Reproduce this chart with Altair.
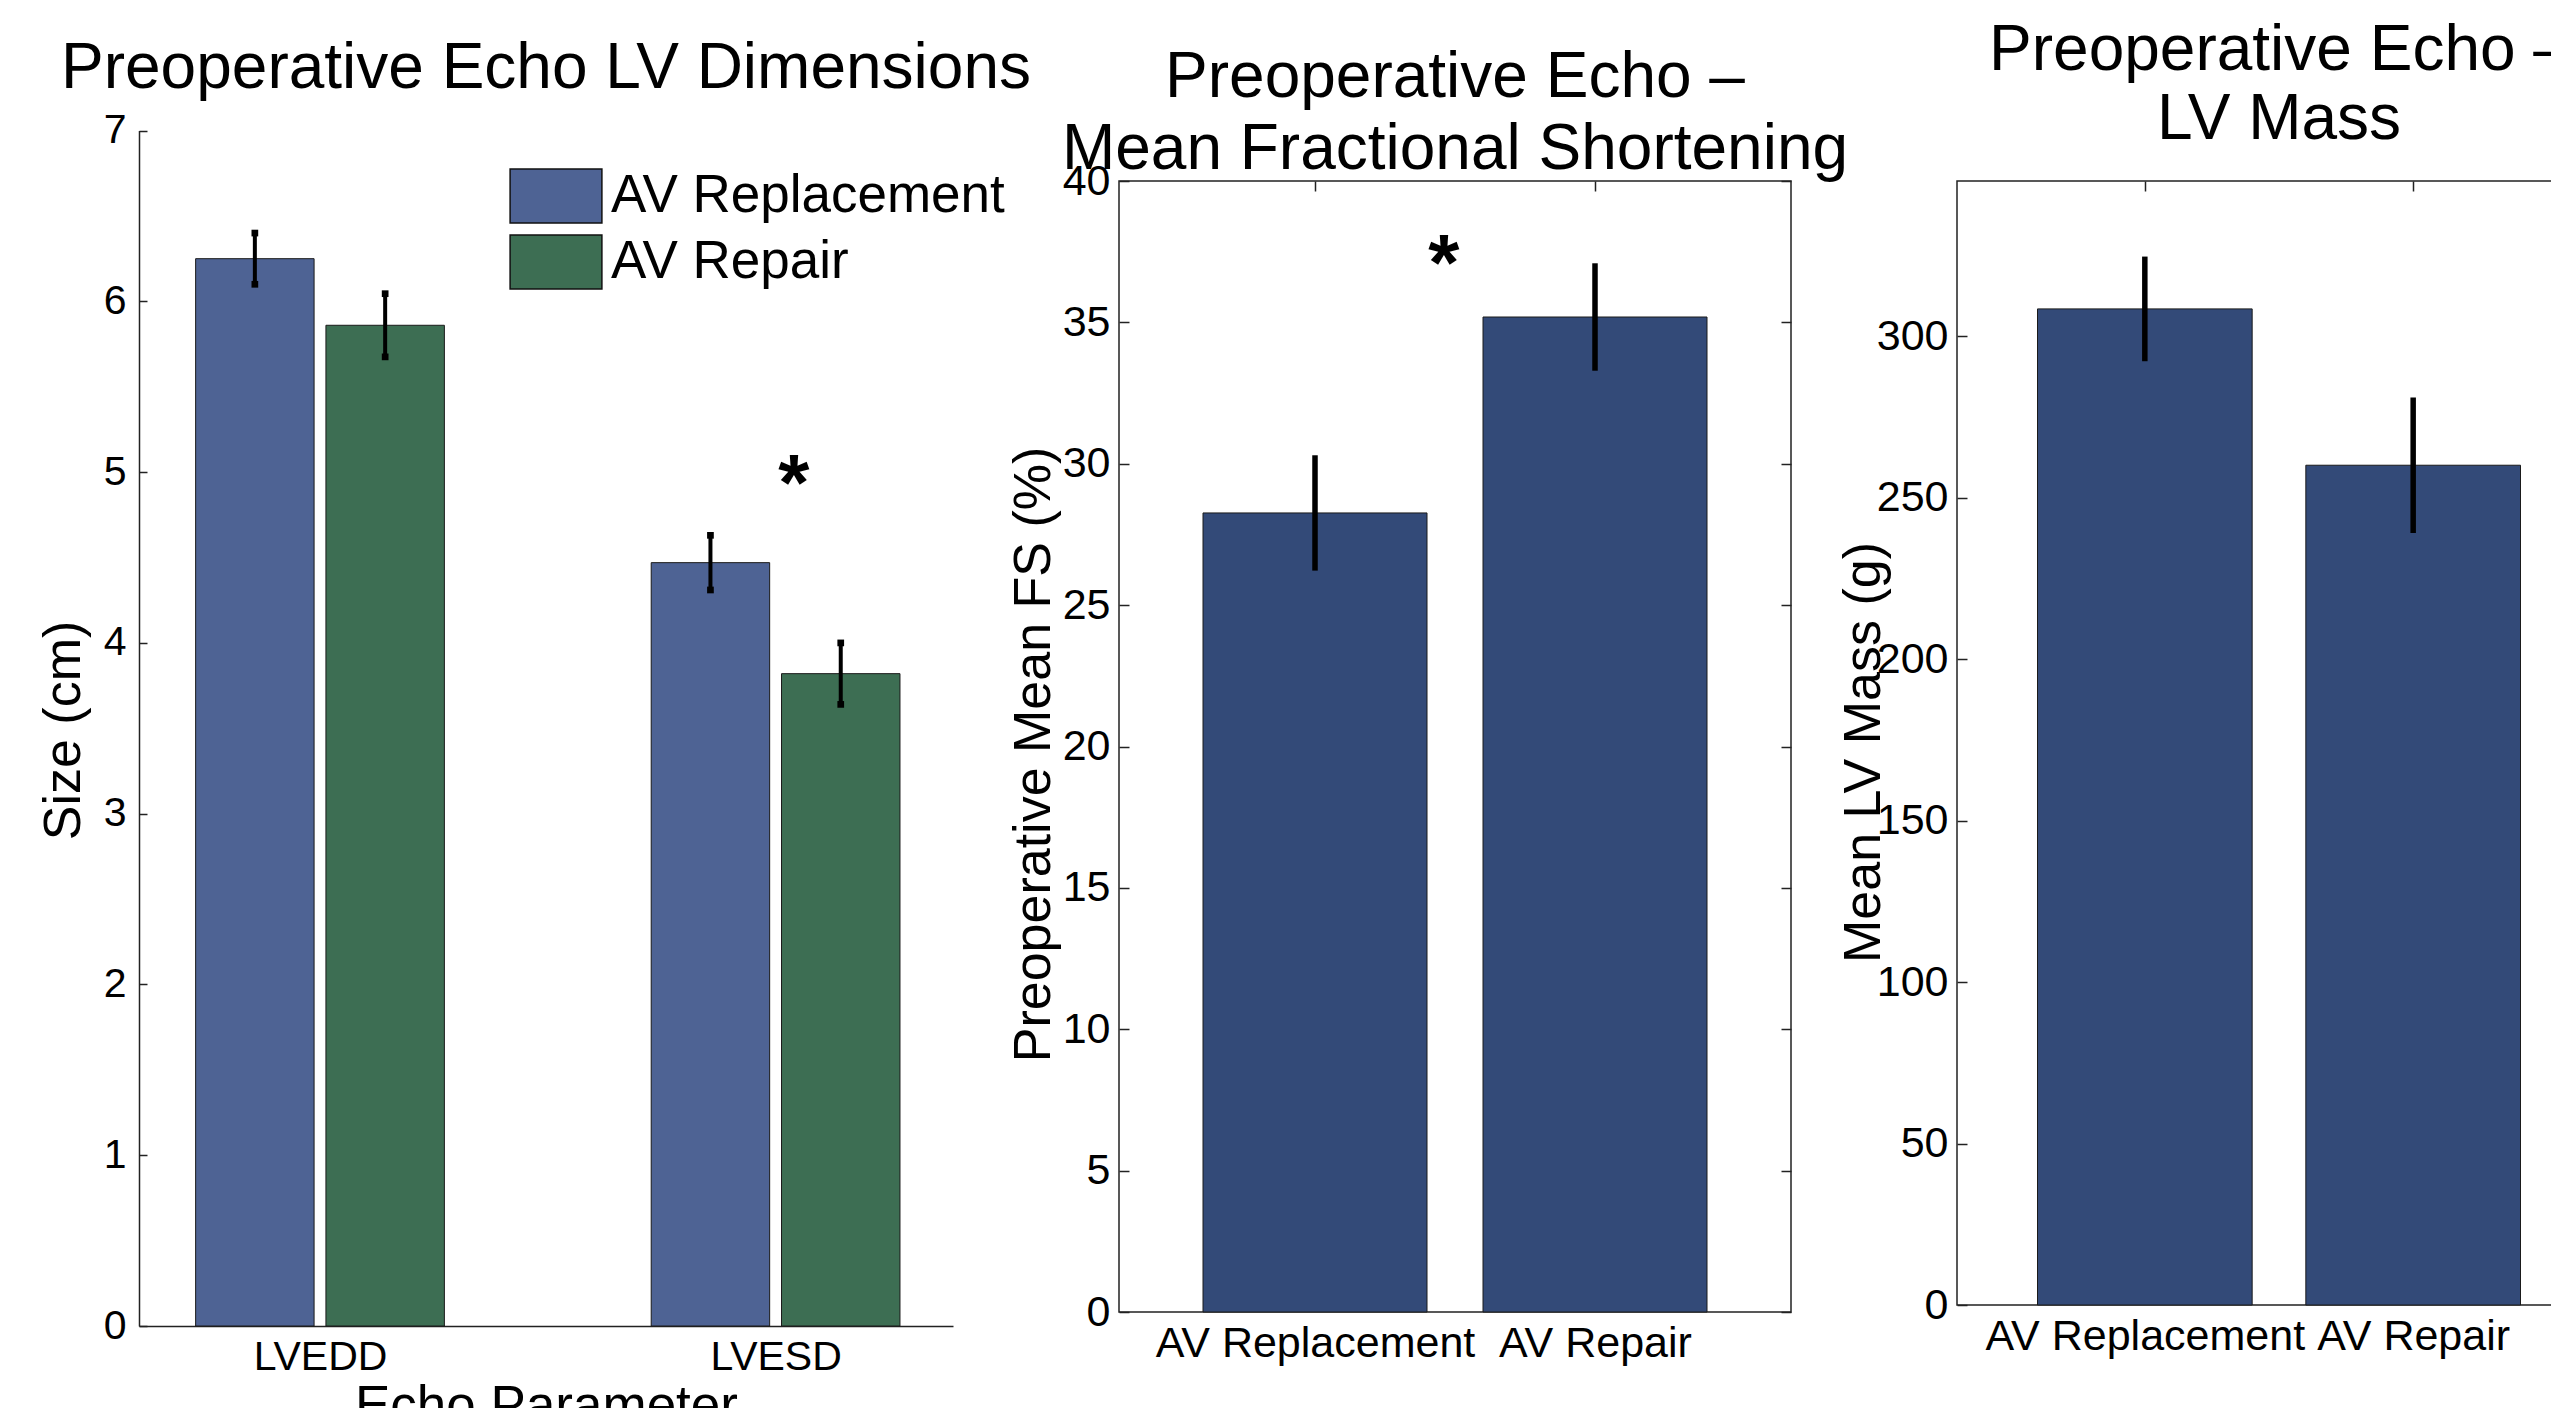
import altair as alt
import pandas as pd

# ---------------- data ----------------
dim_groups = ["LVEDD", "LVESD"]
dim_series = ["AV Replacement", "AV Repair"]
dim_replacement_mean = [6.25, 4.47]
dim_replacement_err = [0.15, 0.16]
dim_repair_mean = [5.86, 3.82]
dim_repair_err = [0.185, 0.18]
dim_star_pos = [2.04]
dim_star_value = [5.0]
dim_y_ticks = [0, 1, 2, 3, 4, 5, 6, 7]

fs_groups = ["AV Replacement", "AV Repair"]
fs_mean = [28.26, 35.19]
fs_err = [2.04, 1.9]
fs_star_pos = [1.46]
fs_star_value = [37.5]
fs_y_ticks = [0, 5, 10, 15, 20, 25, 30, 35, 40]

mass_groups = ["AV Replacement", "AV Repair"]
mass_mean = [308.4, 260.0]
mass_err = [16.2, 21.0]
mass_y_ticks = [0, 50, 100, 150, 200, 250, 300]

FONT = "Liberation Sans"
BLUE = "#4e6394"
GREEN = "#3d6e53"
NAVY = "#334a78"
LINE = "#222222"


def js_list(items):
    return "[" + ",".join("'" + s + "'" for s in items) + "]"


# ---------------- panel 1 : LV dimensions ----------------
W1, H1 = 814, 1145
G1 = js_list(dim_groups)
dim_df = pd.DataFrame({
    "group": dim_groups * 2,
    "series": [dim_series[0]] * len(dim_groups) + [dim_series[1]] * len(dim_groups),
    "mean": dim_replacement_mean + dim_repair_mean,
    "err": dim_replacement_err + dim_repair_err,
})
dim_star_df = pd.DataFrame({"pos": dim_star_pos, "value": dim_star_value})

x1_scale = alt.Scale(domain=[0.6027, 2.3894], nice=False, zero=False)
y1_scale = alt.Scale(domain=[0, 7], range=[H1, -50.4], nice=False, zero=True)
x1_axis = alt.Axis(values=[1, 2], labelExpr=f"{G1}[datum.value - 1]", title="Echo Parameter",
                   ticks=False, domain=True, domainColor=LINE, domainWidth=1.5,
                   labelFontSize=41, labelPadding=11, labelLimit=0,
                   titleFontSize=53, titleY=54)
# main y axis: line, labels, title
y1_axis = alt.Axis(orient="left", values=dim_y_ticks, title="Size (cm)", domain=True,
                   domainColor=LINE, domainWidth=1.5, ticks=False,
                   labelFontSize=41, labelPadding=13, titleFontSize=52, titleX=-49, titleY=549)
# second y axis on the same scale: inward ticks only
y1_tick_axis = alt.Axis(orient="left", values=dim_y_ticks, title=None, domain=False, labels=False,
                        ticks=True, offset=-8, tickSize=8, tickWidth=1.5, tickColor=LINE)


def x1(f):
    return alt.X(f, scale=x1_scale, axis=x1_axis)


def y1(f, axis=None):
    return alt.Y(f, scale=y1_scale, axis=axis)


dim_base = alt.Chart(dim_df).transform_calculate(
    pos=f"indexof({G1}, datum.group) + 1 + (datum.series == '{dim_series[0]}' ? -0.143 : 0.143)"
).transform_calculate(
    lo="datum.pos - 0.13", hi="datum.pos + 0.13",
    elo="datum.mean - datum.err", ehi="datum.mean + datum.err",
)

dim_bars = dim_base.mark_bar(stroke="#1a1a1a", strokeWidth=1).encode(
    x=x1("lo:Q"), x2="hi:Q", y=y1("mean:Q", y1_axis), y2=alt.datum(0),
    color=alt.Color("series:N", scale=alt.Scale(domain=dim_series, range=[BLUE, GREEN]),
                    legend=alt.Legend(title=None, orient="none", legendX=389, legendY=-13,
                                      symbolType="M-1.7,-1L1.7,-1L1.7,1L-1.7,1Z", symbolSize=2916,
                                      symbolStrokeColor="#111", symbolStrokeWidth=1.5,
                                      symbolOpacity=1, labelFontSize=53, labelOffset=27,
                                      rowPadding=6, labelLimit=0, padding=0)),
)
dim_err = dim_base.mark_rule(color="black", strokeWidth=4).encode(
    x=x1("pos:Q"), y=y1("elo:Q", y1_tick_axis), y2="ehi:Q")
dim_cap_lo = dim_base.mark_square(color="black", size=45, opacity=1).encode(
    x=x1("pos:Q"), y=y1("elo:Q"))
dim_cap_hi = dim_base.mark_square(color="black", size=45, opacity=1).encode(
    x=x1("pos:Q"), y=y1("ehi:Q"))
dim_star = alt.Chart(dim_star_df).mark_text(
    text="*", fontSize=80, fontWeight="bold", baseline="middle", dy=14, color="black"
).encode(x=x1("pos:Q"), y=y1("value:Q"))

panel1 = alt.layer(dim_bars, dim_err, dim_cap_lo, dim_cap_hi, dim_star).resolve_axis(
    y="independent"
).properties(
    width=W1, height=H1,
    title=alt.Title("Preoperative Echo LV Dimensions", fontSize=64, offset=9, frame="group"),
)


# ---------------- helpers for panels 2 / 3 ----------------
def single_panel(groups, means, errs, y_ticks, y_domain, y_title, W, H, title_lines,
                 title_offset, line_height, title_x, title_y, right_axis,
                 star_pos=None, star_value=None):
    G = js_list(groups)
    df = pd.DataFrame({"group": groups, "mean": means, "err": errs})
    xs = alt.Scale(domain=[0.3, 2.7], nice=False, zero=False)
    ys = alt.Scale(domain=y_domain, nice=False, zero=True)
    left_axis = alt.Axis(orient="left", values=y_ticks, title=y_title, domain=False,
                         offset=-10, tickSize=10, tickWidth=1.5, tickColor=LINE,
                         labelPadding=9, labelFontSize=43, titleFontSize=52,
                         titleX=title_x, titleY=title_y)
    bottom_axis = alt.Axis(orient="bottom", values=[1, 2], labelExpr=f"{G}[datum.value - 1]",
                           title=None, domain=False, ticks=False, labelPadding=10,
                           labelFontSize=43, labelLimit=0)
    top_axis = alt.Axis(orient="top", values=[1, 2], labels=False, title=None, domain=False,
                        offset=-10, tickSize=10, tickWidth=1.5, tickColor=LINE)
    base = alt.Chart(df).transform_calculate(
        pos=f"indexof({G}, datum.group) + 1"
    ).transform_calculate(
        lo="datum.pos - 0.4", hi="datum.pos + 0.4",
        elo="datum.mean - datum.err", ehi="datum.mean + datum.err",
    )
    bars = base.mark_bar(color=NAVY, stroke="#1a1a1a", strokeWidth=1).encode(
        x=alt.X("lo:Q", scale=xs, axis=bottom_axis), x2="hi:Q",
        y=alt.Y("mean:Q", scale=ys, axis=left_axis), y2=alt.datum(0))
    if right_axis:
        r_axis = alt.Axis(orient="right", values=y_ticks, labels=False, title=None, domain=False,
                          offset=-10, tickSize=10, tickWidth=1.5, tickColor=LINE)
    else:
        r_axis = None
    err = base.mark_rule(color="black", strokeWidth=5.5).encode(
        x=alt.X("pos:Q", scale=xs, axis=top_axis),
        y=alt.Y("elo:Q", scale=ys, axis=r_axis), y2="ehi:Q")
    layers = [bars, err]
    if star_pos is not None:
        sdf = pd.DataFrame({"pos": star_pos, "value": star_value})
        star = alt.Chart(sdf).mark_text(text="*", fontSize=80, fontWeight="bold",
                                        baseline="middle", dy=14, color="black").encode(
            x=alt.X("pos:Q", scale=xs, axis=None), y=alt.Y("value:Q", scale=ys, axis=None))
        layers.append(star)
    return alt.layer(*layers).resolve_axis(x="independent", y="independent").properties(
        width=W, height=H,
        view=alt.ViewBackground(stroke=LINE, strokeWidth=1.5),
        title=alt.Title(title_lines, fontSize=64, offset=title_offset, lineHeight=line_height,
                        frame="group"),
    )


panel2 = single_panel(fs_groups, fs_mean, fs_err, fs_y_ticks, [0, 40],
                      "Preoperative Mean FS (%)", 672, 1131,
                      ["Preoperative Echo \u2013", "Mean Fractional Shortening"],
                      -22, 72, -69, 573, True, fs_star_pos, fs_star_value)
panel3 = single_panel(mass_groups, mass_mean, mass_err, mass_y_ticks, [0, 348],
                      "Mean LV Mass (g)", 644, 1124,
                      ["Preoperative Echo \u2013", "LV Mass"],
                      28, 69, -77, 571, False)

chart = alt.hconcat(panel1, panel2, panel3, spacing=166, bounds="flush").properties(
    autosize=alt.AutoSizeParams(type="none"),
    padding={"left": 131, "top": 173, "right": 2412, "bottom": 1227},
).configure(font=FONT).configure_view(stroke=None).configure_axis(
    labelFont=FONT, titleFont=FONT, labelColor="black", titleColor="black", grid=False,
    labelFlush=False, labelOverlap=False, titleFontWeight="normal",
).configure_title(font=FONT, color="black", fontWeight="normal", anchor="middle").configure_legend(
    labelFont=FONT, labelColor="black")

chart.save("out.html", embed_options={"renderer": "svg", "actions": False})
